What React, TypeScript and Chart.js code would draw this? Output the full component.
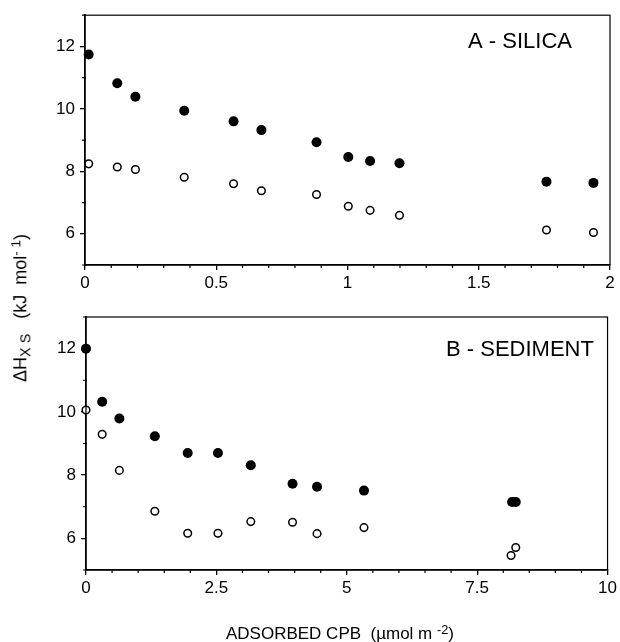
import React, { useEffect, useRef } from "react";
import { Chart, registerables } from "chart.js";

Chart.register(...registerables);

const FONT = '"Liberation Sans", Arial, Helvetica, sans-serif';

// ---- Panel A: silica ----
const silicaX = [0.014, 0.123, 0.192, 0.378, 0.566, 0.672, 0.882, 1.003, 1.086, 1.198, 1.758, 1.937];
const silicaFilled = [11.74, 10.82, 10.39, 9.94, 9.6, 9.32, 8.93, 8.46, 8.33, 8.26, 7.67, 7.63];
const silicaOpen = [8.24, 8.14, 8.06, 7.81, 7.6, 7.38, 7.26, 6.88, 6.75, 6.59, 6.12, 6.04];

// ---- Panel B: sediment ----
const sedimentFilledX = [0, 0.31, 0.64, 1.32, 1.95, 2.53, 3.16, 3.96, 4.43, 5.33, 8.17, 8.24];
const sedimentFilled = [12.0, 10.32, 9.79, 9.23, 8.7, 8.7, 8.31, 7.73, 7.63, 7.51, 7.15, 7.15];
const sedimentOpenX = [0, 0.31, 0.64, 1.32, 1.95, 2.53, 3.16, 3.96, 4.43, 5.33, 8.15, 8.24];
const sedimentOpen = [10.06, 9.29, 8.15, 6.86, 6.16, 6.16, 6.53, 6.51, 6.15, 6.34, 5.46, 5.71];

// ---- ticks ----
const yTicks = [6, 8, 10, 12];
const yMinor = [5, 7, 9, 11, 13];
const xTicksA = [0, 0.5, 1, 1.5, 2];
const xMinorA = [0.1, 0.2, 0.3, 0.4, 0.6, 0.7, 0.8, 0.9, 1.1, 1.2, 1.3, 1.4, 1.6, 1.7, 1.8, 1.9];
const xTicksB = [0, 2.5, 5, 7.5, 10];
const xMinorB = [0.5, 1, 1.5, 2, 3, 3.5, 4, 4.5, 5.5, 6, 6.5, 7, 8, 8.5, 9, 9.5];

type PanelCfg = {
  xs: number[];
  filled: number[];
  xsOpen: number[];
  open: number[];
  xMax: number;
  xTicks: number[];
  xMinor: number[];
  label: string;
  labelX: number;
  labelY: number;
  padTop: number;
  padRight: number;
  yWidth: number;
  xHeight: number;
};

function buildChart(canvas: HTMLCanvasElement, p: PanelCfg) {
  const panelPlugin = {
    id: "panelDeco",
    afterDraw(chart: any) {
      const ctx = chart.ctx;
      const a = chart.chartArea;
      const xs = chart.scales.x;
      const ys = chart.scales.y;
      ctx.save();
      ctx.strokeStyle = "#000";
      ctx.lineWidth = 1.2;
      ctx.strokeRect(a.left, a.top, a.right - a.left, a.bottom - a.top);
      ctx.lineWidth = 1.2;
      ctx.beginPath();
      p.xMinor.forEach((v) => {
        const px = xs.getPixelForValue(v);
        ctx.moveTo(px, a.bottom - 1);
        ctx.lineTo(px, a.bottom + 3);
      });
      yMinor.forEach((v) => {
        const py = ys.getPixelForValue(v);
        ctx.moveTo(a.left + 1, py);
        ctx.lineTo(a.left - 3, py);
      });
      ctx.stroke();
      ctx.fillStyle = "#000";
      ctx.font = `22px ${FONT}`;
      ctx.textAlign = "center";
      ctx.textBaseline = "alphabetic";
      ctx.fillText(p.label, p.labelX, p.labelY);
      ctx.restore();
    },
  };

  return new Chart(canvas, {
    type: "scatter",
    data: {
      datasets: [
        {
          data: p.xs.map((x, i) => ({ x, y: p.filled[i] })),
          pointRadius: 5,
          pointBackgroundColor: "#000",
          pointBorderColor: "#000",
          pointBorderWidth: 0,
          showLine: false,
          clip: false as any,
        },
        {
          data: p.xsOpen.map((x, i) => ({ x, y: p.open[i] })),
          pointRadius: 3.8,
          pointBackgroundColor: "#fff",
          pointBorderColor: "#000",
          pointBorderWidth: 1.5,
          showLine: false,
          clip: false as any,
        },
      ],
    },
    options: {
      animation: false,
      responsive: false,
      events: [],
      layout: { padding: { top: p.padTop, right: p.padRight, left: 0, bottom: 0 } },
      plugins: { legend: { display: false }, tooltip: { enabled: false }, title: { display: false } },
      scales: {
        x: {
          type: "linear",
          min: 0,
          max: p.xMax,
          afterBuildTicks: (scale: any) => {
            scale.ticks = p.xTicks.map((v) => ({ value: v }));
          },
          afterFit: (scale: any) => {
            scale.height = p.xHeight;
          },
          ticks: {
            color: "#000",
            font: { family: FONT, size: 17 },
            padding: 3,
            maxRotation: 0,
            autoSkip: false,
            callback: (v: any) => String(v),
          },
          grid: { drawOnChartArea: false, drawTicks: true, tickLength: 5, color: "#000", lineWidth: 1.3 },
          border: { display: true, color: "#000", width: 1.5 },
        },
        y: {
          type: "linear",
          min: 5,
          max: 13,
          afterBuildTicks: (scale: any) => {
            scale.ticks = yTicks.map((v) => ({ value: v }));
          },
          afterFit: (scale: any) => {
            scale.width = p.yWidth;
          },
          ticks: {
            color: "#000",
            font: { family: FONT, size: 17 },
            padding: 5,
            autoSkip: false,
            callback: (v: any) => String(v),
          },
          grid: { drawOnChartArea: false, drawTicks: true, tickLength: 5, color: "#000", lineWidth: 1.3 },
          border: { display: true, color: "#000", width: 1.5 },
        },
      },
    } as any,
    plugins: [panelPlugin],
  });
}

const panelA: PanelCfg = {
  xs: silicaX,
  filled: silicaFilled,
  xsOpen: silicaX,
  open: silicaOpen,
  xMax: 2,
  xTicks: xTicksA,
  xMinor: xMinorA,
  label: "A - SILICA",
  labelX: 520,
  labelY: 48,
  padTop: 12,
  padRight: 10,
  yWidth: 85,
  xHeight: 35,
};

const panelB: PanelCfg = {
  xs: sedimentFilledX,
  filled: sedimentFilled,
  xsOpen: sedimentOpenX,
  open: sedimentOpen,
  xMax: 10,
  xTicks: xTicksB,
  xMinor: xMinorB,
  label: "B - SEDIMENT",
  labelX: 520,
  labelY: 56,
  padTop: 17,
  padRight: 8,
  yWidth: 86,
  xHeight: 72,
};

export default function App() {
  const refA = useRef<HTMLCanvasElement>(null);
  const refB = useRef<HTMLCanvasElement>(null);

  useEffect(() => {
    const ca = buildChart(refA.current!, panelA);
    const cb = buildChart(refB.current!, panelB);
    return () => {
      ca.destroy();
      cb.destroy();
    };
  }, []);

  return (
    <div
      style={{
        position: "absolute",
        left: 0,
        top: 0,
        width: 620,
        height: 642,
        background: "#fff",
        fontFamily: FONT,
        color: "#000",
      }}
    >
      <canvas ref={refA} width={620} height={300} style={{ position: "absolute", left: 0, top: 0, display: "block" }} />
      <canvas ref={refB} width={620} height={342} style={{ position: "absolute", left: 0, top: 300, display: "block" }} />
      <div
        style={{
          position: "absolute",
          left: 21,
          top: 308,
          transform: "translate(-50%, -50%) rotate(-90deg)",
          whiteSpace: "pre",
          fontSize: 18,
          lineHeight: "20px",
        }}
      >
        {"\u0394H"}
        <sub style={{ fontSize: "0.8em", verticalAlign: "-0.3em" }}>{"X S"}</sub>
        {"   (kJ  mol"}
        <sup style={{ fontSize: "0.75em", verticalAlign: "0.45em" }}>{"- 1"}</sup>
        {")"}
      </div>
      <div
        style={{
          position: "absolute",
          left: 340,
          top: 632,
          transform: "translate(-50%, -50%)",
          whiteSpace: "pre",
          fontSize: 17,
          lineHeight: "20px",
        }}
      >
        {"ADSORBED CPB  (\u00B5mol m "}
        <sup style={{ fontSize: "0.75em", verticalAlign: "0.45em" }}>{"-2"}</sup>
        {")"}
      </div>
    </div>
  );
}
